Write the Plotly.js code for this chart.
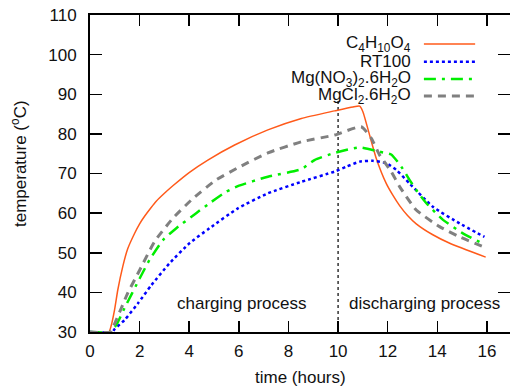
<!DOCTYPE html>
<html>
<head>
<meta charset="utf-8">
<script src="https://cdn.plot.ly/plotly-3.0.1.min.js"></script>
<style>html,body{margin:0;padding:0;background:#fff;}#chart{width:510px;height:389px;}</style>
</head>
<body>
<div id="chart"></div>
<script>
// Series: time (hours) and temperature (°C)
var c4Time = [0, 0.76, 0.85, 0.99, 1.12, 1.32, 1.52, 1.79, 2.0, 2.2, 2.45, 2.67, 3.0, 3.34, 4.01, 4.75, 5.83, 7.17, 8.52, 9.86, 10.6, 10.87, 11.0, 11.27, 11.54, 11.94, 12.2, 12.48, 12.8, 13.15, 13.8, 14.5, 15.95];
var c4Temp = [30, 30, 31.5, 35.6, 40.6, 46.5, 51, 54.8, 57.3, 59.2, 61.3, 63, 65, 66.9, 70.3, 73.4, 77.2, 81, 83.9, 85.8, 86.8, 87, 85.6, 79.7, 73.8, 67.5, 64.6, 61.9, 59.4, 57.3, 54.6, 52.4, 48.9];

var rtTime = [0, 0.9, 1.0, 1.39, 1.93, 2.47, 3.2, 4.01, 4.82, 5.96, 7.17, 8.52, 9.86, 10.33, 10.87, 11.4, 11.94, 12.35, 12.88, 13.82, 14.9, 15.9];
var rtTemp = [30, 30, 30.8, 33, 37.2, 41.8, 47.3, 52.4, 56.2, 61.2, 65, 67.9, 70.5, 71.7, 73, 73.2, 72.6, 70.9, 67.5, 61.6, 57.4, 54];

var mgnTime = [0, 0.8, 1.06, 1.39, 2.0, 2.4, 2.94, 3.48, 4.28, 4.82, 5.49, 5.96, 7.17, 8.52, 9.05, 9.86, 10.87, 11.67, 12.14, 12.55, 12.88, 13.2, 13.56, 14.23, 15.03, 15.81];
var mgnTemp = [30, 30, 31.8, 36, 43.5, 48.2, 53.2, 56.2, 60, 62.5, 65.4, 66.8, 69.2, 71.1, 73.4, 75.2, 76.6, 75.5, 74.8, 71.7, 68.4, 65.4, 62.5, 58.3, 54.9, 52.4];

var mgcTime = [0, 0.82, 0.95, 1.26, 1.52, 2.0, 2.6, 3.34, 4.15, 5.09, 6.1, 7.17, 8.52, 9.86, 10.93, 11.34, 11.67, 12.14, 12.48, 13.15, 14.09, 14.9, 15.9];
var mgcTemp = [30, 30, 31.5, 36, 39.8, 45.6, 52.8, 58.7, 63.7, 68.4, 71.9, 75.2, 78, 79.7, 81.8, 78.9, 74.7, 70.5, 66.7, 60.8, 56.6, 54, 51.4];

var seriesNames = ['C<sub>4</sub>H<sub>10</sub>O<sub>4</sub>', 'RT100', 'Mg(NO<sub>3</sub>)<sub>2</sub>.6H<sub>2</sub>O', 'MgCl<sub>2</sub>.6H<sub>2</sub>O'];
var seriesColors = ['#ff5a1a', '#0000ff', '#00ee00', '#808080'];

var dividerTime = [10, 10];
var dividerTemp = [30, 88.5];

var xTicks = [0, 2, 4, 6, 8, 10, 12, 14, 16];
var yTicks = [30, 40, 50, 60, 70, 80, 90, 100, 110];

var phaseLabels = ['charging process', 'discharging process'];
var phaseX = [6.1, 13.47];
var phaseY = [37.1, 37.1];

var FONT = 'Liberation Sans, Arial, Helvetica, sans-serif';

var styles = [
  {width: 1.5, dash: 'solid'},
  {width: 2.5, dash: 'dot'},
  {width: 2.5, dash: '12px,6px,3px,6px'},
  {width: 3, dash: '8px,6px'}
];
var xs = [c4Time, rtTime, mgnTime, mgcTime];
var ys = [c4Temp, rtTemp, mgnTemp, mgcTemp];

var traces = [];
traces.push({x: dividerTime, y: dividerTemp, mode: 'lines', line: {color: '#000', width: 1.2, dash: 'dot'}, showlegend: false, hoverinfo: 'skip'});
for (var i = 0; i < 4; i++) {
  traces.push({x: xs[i], y: ys[i], mode: 'lines', name: seriesNames[i],
    line: {color: seriesColors[i], width: styles[i].width, dash: styles[i].dash, shape: 'spline', smoothing: 0.5},
    showlegend: false});
}
// dummy trace to hold right-hand mirrored y ticks
traces.push({x: [0], y: [30], yaxis: 'y2', mode: 'markers', marker: {opacity: 0}, showlegend: false, hoverinfo: 'skip'});

var annotations = [];
for (var k = 0; k < phaseLabels.length; k++) {
  annotations.push({x: phaseX[k], y: phaseY[k], xref: 'x', yref: 'y', text: phaseLabels[k], showarrow: false,
    font: {family: FONT, size: 17, color: '#111'}, xanchor: 'center', yanchor: 'middle'});
}
var rowY = [0.9085, 0.8527, 0.798, 0.7445];
var shapes = [];
for (var r = 0; r < 4; r++) {
  annotations.push({x: 0.769, y: rowY[r], xref: 'paper', yref: 'paper', text: seriesNames[r], showarrow: false,
    font: {family: FONT, size: 17, color: '#111'}, xanchor: 'right', yanchor: 'middle'});
  shapes.push({type: 'line', xref: 'paper', yref: 'paper', x0: 0.795, x1: 0.917, y0: rowY[r], y1: rowY[r],
    line: {color: seriesColors[r], width: styles[r].width, dash: styles[r].dash}});
}
annotations.push({x: -0.169, y: 0.53, xref: 'paper', yref: 'paper', text: 'temperature (<sup>o</sup>C)', textangle: -90,
  showarrow: false, font: {family: FONT, size: 17, color: '#111'}, xanchor: 'center', yanchor: 'middle'});
annotations.push({x: 0.5, y: -0.142, xref: 'paper', yref: 'paper', text: 'time (hours)',
  showarrow: false, font: {family: FONT, size: 17, color: '#111'}, xanchor: 'center', yanchor: 'middle'});

var layout = {
  width: 510, height: 389,
  margin: {l: 90, r: 0, t: 15, b: 57, pad: 0},
  paper_bgcolor: '#fff', plot_bgcolor: '#fff',
  showlegend: false,
  font: {family: FONT, size: 17, color: '#111'},
  xaxis: {range: [0, 16.93], tickvals: xTicks, ticktext: xTicks.map(String), ticks: 'inside', ticklen: 11, tickwidth: 1.5,
    tickcolor: '#000', showline: true, linecolor: '#000', linewidth: 2, mirror: 'ticks', showgrid: false, zeroline: false,
    tickfont: {family: FONT, size: 17, color: '#111'}, ticklabelstandoff: 3},
  yaxis: {range: [30, 110], tickvals: yTicks, ticktext: yTicks.map(String), ticks: 'inside', ticklen: 12, tickwidth: 1.5,
    tickcolor: '#000', showline: true, linecolor: '#000', linewidth: 2, mirror: false, showgrid: false, zeroline: false,
    tickfont: {family: FONT, size: 17, color: '#111'}, ticklabelstandoff: 8},
  yaxis2: {range: [30, 110], overlaying: 'y', side: 'right', tickvals: yTicks, ticks: 'inside', ticklen: 12, tickwidth: 1.5,
    tickcolor: '#000', showline: false, showticklabels: false, showgrid: false, zeroline: false},
  annotations: annotations,
  shapes: shapes
};

Plotly.newPlot('chart', traces, layout, {staticPlot: true, displayModeBar: false});
</script>
</body>
</html>
